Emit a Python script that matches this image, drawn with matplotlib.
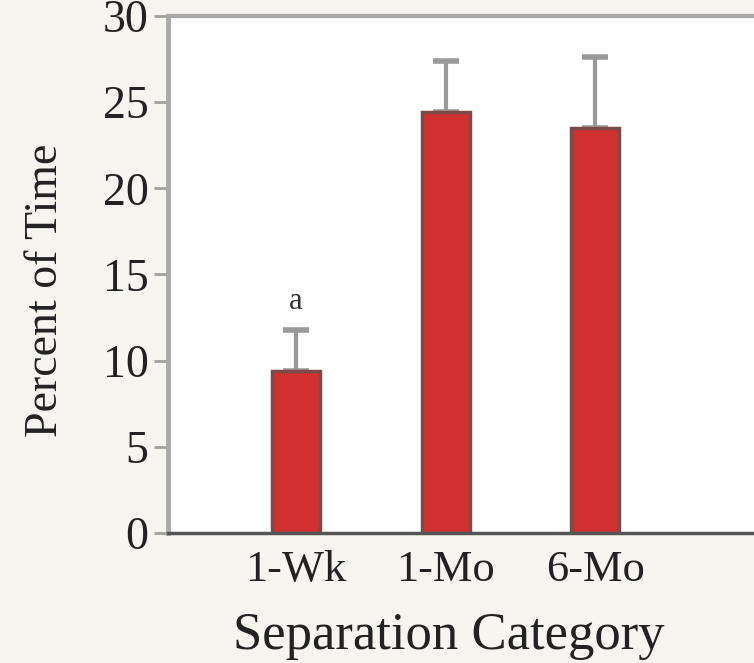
import matplotlib.pyplot as plt

# Data
categories = ["1-Wk", "1-Mo", "6-Mo"]
percent_time = [9.4, 24.4, 23.5]
error_upper = [2.4, 3.0, 4.1]
sig_labels = ["a", "", ""]
y_ticks = [0, 5, 10, 15, 20, 25, 30]

plt.rcParams['font.family'] = ['Liberation Serif', 'DejaVu Serif']

fig = plt.figure(figsize=(7.54, 6.63), dpi=100, facecolor='#f7f5ef')
ax = fig.add_axes([0.2228, 0.196, 0.7772, 0.78])
ax.set_facecolor('white')

x = list(range(len(categories)))
ax.bar(x, percent_time, width=0.32, color='#d03030', edgecolor='#7d4a4a', linewidth=2.5, zorder=2)
ax.errorbar(x, percent_time, yerr=[[0] * len(x), error_upper], fmt='none',
            ecolor='#999999', elinewidth=3, capsize=9.5, capthick=4, zorder=1)

for xi, val, err, lab in zip(x, percent_time, error_upper, sig_labels):
    if lab:
        ax.text(xi, val + err + 0.8, lab, ha='center', va='bottom', fontsize=22, color='#333333')

ax.set_xlim(-0.855, 3.06)
ax.set_ylim(0, 30)
ax.set_yticks(y_ticks)
ax.set_xticks(x)
ax.set_xticklabels(categories)
ax.tick_params(axis='y', direction='out', length=10, width=2, color='#a0a0a0',
               labelsize=33, labelcolor='#222222', pad=4)
ax.tick_params(axis='x', length=0, labelsize=32, labelcolor='#222222', pad=12)

ax.set_xlabel("Separation Category", fontsize=38, color='#222222', labelpad=16)
ax.set_ylabel("Percent of Time", fontsize=33, color='#222222', labelpad=26)
ax.xaxis.label.set_x(0.48)
ax.yaxis.label.set_y(0.47)

ax.spines['right'].set_visible(False)
ax.spines['top'].set_color('#a8a8a4')
ax.spines['top'].set_linewidth(3)
ax.spines['left'].set_color('#aaaaaa')
ax.spines['left'].set_linewidth(3.5)
ax.spines['bottom'].set_color('#555555')
ax.spines['bottom'].set_linewidth(2.5)

fig.savefig("out.png", dpi=100, facecolor=fig.get_facecolor())
